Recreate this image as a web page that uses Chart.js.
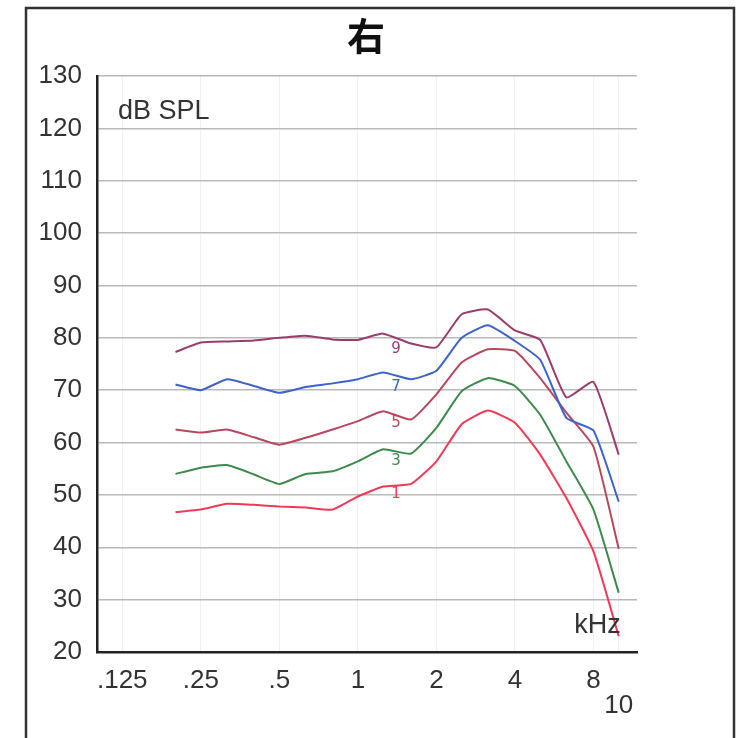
<!DOCTYPE html>
<html>
<head>
<meta charset="utf-8">
<script src="https://cdn.jsdelivr.net/npm/chart.js@4.4.1/dist/chart.umd.min.js"></script>
<style>
html,body{margin:0;padding:0;background:#fff;}
#wrap{width:739px;height:738px;}
</style>
</head>
<body>
<div id="wrap"><canvas id="chart" width="739" height="738"></canvas></div>
<script>
// frequencies (kHz) and the five curves (dB SPL)
const freqs=[0.2,0.25,0.315,0.4,0.5,0.63,0.8,1,1.25,1.6,2,2.5,3.15,4,5,6.3,8,10];
const curve9=[77.3,79.1,79.3,79.5,80.0,80.4,79.7,79.6,80.8,78.9,78.2,84.5,85.4,81.4,79.6,68.6,71.6,57.7];
const curve7=[71.1,70.0,72.1,70.8,69.5,70.6,71.3,72.1,73.4,72.1,73.7,80.0,82.4,79.4,75.8,64.7,62.3,48.7];
const curve5=[62.5,61.9,62.5,61.0,59.6,60.9,62.5,64.1,66.0,64.4,69.2,75.3,77.8,77.5,72.3,65.7,59.2,39.7];
const curve3=[54.0,55.2,55.7,53.9,52.1,54.0,54.5,56.4,58.7,57.9,62.8,69.8,72.3,70.8,65.3,56.4,47.2,31.3];
const curve1=[46.7,47.2,48.3,48.1,47.8,47.6,47.2,49.7,51.6,52.1,56.4,63.5,66.1,63.8,57.7,49.4,39.2,23.0];
const curveNames=['9','7','5','3','1'];
const labelFreq=1.4;
const labelDb=[77.9,70.6,63.7,56.4,50.1];
const xTicks=[0.125,0.25,0.5,1,2,4,8,10];
const yMin=20,yMax=130,yStep=10;
const titleText='右';

const colors=['#9a3c6c','#3d63c9','#b7475e','#3e8a4d','#ef3a57'];
const curves=[curve9,curve7,curve5,curve3,curve1];

const font='"Liberation Sans", Arial, sans-serif';

const decor={
 id:'decor',
 beforeDraw(c){
  const ctx=c.ctx;
  ctx.save();
  ctx.fillStyle='#fff';
  ctx.fillRect(0,0,c.width,c.height);
  ctx.restore();
 },
 afterDraw(c){
  const ctx=c.ctx,a=c.chartArea,xs=c.scales.x,ys=c.scales.y;
  ctx.save();
  // outer frame
  ctx.strokeStyle='#333';ctx.lineWidth=2.5;
  ctx.beginPath();
  ctx.moveTo(26,760);ctx.lineTo(26,8);ctx.lineTo(734,8);ctx.lineTo(734,760);
  ctx.stroke();
  // title
  ctx.fillStyle='#111';
  ctx.textAlign='center';ctx.textBaseline='middle';
  ctx.font='bold 38px "Noto Sans CJK JP", sans-serif';
  ctx.fillText(titleText,366,36);
  // axis unit texts
  ctx.fillStyle='#333';
  ctx.font='27px '+font;
  ctx.textAlign='left';
  ctx.fillText('dB SPL',a.left+21,ys.getPixelForValue(123.2));
  ctx.textAlign='center';
  ctx.fillText('kHz',xs.getPixelForValue(8.3),ys.getPixelForValue(25.0));
  // curve numbers
  ctx.font='15px "DejaVu Sans", sans-serif';
  curveNames.forEach((n,i)=>{
   ctx.fillStyle=colors[i];
   ctx.fillText(n,xs.getPixelForValue(labelFreq),ys.getPixelForValue(labelDb[i]));
  });
  ctx.restore();
 }
};

new Chart(document.getElementById('chart'),{
 type:'line',
 data:{datasets:curves.map((cv,i)=>({
  label:curveNames[i],
  data:freqs.map((f,j)=>({x:f,y:cv[j]})),
  borderColor:colors[i],
  borderWidth:2,
  pointRadius:0,
  tension:0.15,
  fill:false
 }))},
 options:{
  responsive:false,
  animation:false,
  layout:{padding:{left:0,right:102,top:76,bottom:0}},
  plugins:{
   legend:{display:false},
   tooltip:{enabled:false},
   title:{display:false}
  },
  scales:{
   x:{type:'logarithmic',min:0.1,max:11.75,
    afterBuildTicks:s=>{s.ticks=xTicks.map(v=>({value:v}));},
    afterFit:s=>{s.height=86;},
    ticks:{autoSkip:false,maxRotation:0,padding:16,color:'#333',
     font:{family:font,size:26,lineHeight:0.97},
     callback:v=>v===10?['','10']:(v<1?String(v).replace('0.','.'):String(v))},
    grid:{color:'#f1f1f1',lineWidth:1,drawTicks:false},
    border:{display:true,color:'#222',width:2.5}
   },
   y:{min:yMin,max:yMax,
    afterFit:s=>{s.width=97;},
    ticks:{stepSize:yStep,padding:15,color:'#333',font:{family:font,size:26}},
    grid:{color:'#b9b9b9',lineWidth:1.5,drawTicks:false},
    border:{display:true,color:'#222',width:2.5}
   }
  }
 },
 plugins:[decor]
});
</script>
</body>
</html>
